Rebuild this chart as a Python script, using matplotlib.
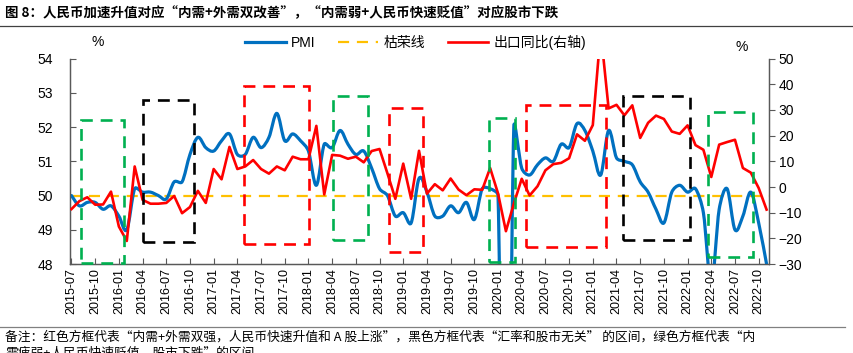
import numpy as np
import pandas as pd
import matplotlib
matplotlib.use("Agg")
import matplotlib.pyplot as plt
from matplotlib.path import Path
from matplotlib.patches import PathPatch, Rectangle
from matplotlib.lines import Line2D

plt.rcParams['font.family'] = ['Liberation Sans', 'Noto Sans CJK SC', 'DejaVu Sans']

months = pd.date_range("2015-07-01", "2022-11-01", freq="MS")
month_labels = months.strftime("%Y-%m")

pmi = [50.0, 49.7, 49.8, 49.8, 49.6, 49.7,
       49.4, 49.0, 50.2, 50.1, 50.1, 50.0, 49.9, 50.4, 50.4, 51.2, 51.7, 51.4,
       51.3, 51.6, 51.8, 51.2, 51.2, 51.7, 51.4, 51.7, 52.4, 51.6, 51.8, 51.6,
       51.3, 50.3, 51.5, 51.4, 51.9, 51.5, 51.2, 51.3, 50.8, 50.2, 50.0, 49.4,
       49.5, 49.2, 50.5, 50.1, 49.4, 49.4, 49.7, 49.5, 49.8, 49.3, 50.2, 50.2,
       50.0, 35.7, 52.0, 50.8, 50.6, 50.9, 51.1, 51.0, 51.5, 51.4, 52.1, 51.9,
       51.3, 50.6, 51.9, 51.1, 51.0, 50.9, 50.4, 50.1, 49.6, 49.2, 50.1, 50.3,
       50.1, 50.2, 49.5, 47.4, 49.6, 50.2, 49.0, 49.4, 50.1, 49.2, 48.0]

export_yoy = [-8.6, -5.5, -4.0, -6.9, -6.8, -1.8,
              -15.4, -21.0, 8.0, -5.0, -6.5, -6.5, -6.2, -3.5, -10.2, -7.8, -1.5, -6.2,
              7.0, 3.0, 15.6, 7.0, 8.0, 10.5, 7.0, 5.2, 8.0, 6.5, 11.8, 10.8,
              10.8, 23.8, -2.9, 12.5, 12.2, 11.0, 11.8, 9.6, 14.0, 14.8, 5.3, -4.6,
              9.1, -4.6, 14.1, -2.6, 1.1, -1.3, 3.3, -1.0, -3.2, -0.9, -1.1, 7.4,
              -2.5, -17.2, -6.5, 3.2, -3.3, 0.3, 6.5, 8.9, 9.4, 11.2, 20.5, 18.0,
              24.1, 60.6, 30.6, 32.0, 27.9, 31.8, 19.1, 25.0, 27.8, 26.5, 21.6, 20.7,
              24.0, 16.3, 14.5, 3.9, 16.5, 17.5, 18.4, 7.4, 5.6, -0.4, -8.8]

boom_line = 50.0

# dashed boxes: colour, first/last month (index), PMI bottom/top
box_colors = ['#00B050', 'black', '#FF0000', '#00B050', '#FF0000',
              '#00B050', '#FF0000', 'black', '#00B050']
box_start = [1.2, 9.1, 21.8, 33.1, 40.2, 52.8, 57.6, 69.8, 80.6]
box_end = [6.7, 15.5, 30.1, 37.6, 44.5, 56.1, 67.7, 78.3, 86.3]
box_low = [48.03, 48.64, 48.58, 48.71, 48.36, 48.07, 48.49, 48.71, 48.22]
box_high = [52.2, 52.8, 53.21, 52.92, 52.56, 52.27, 52.65, 52.9, 52.43]

title = "图 8：人民币加速升值对应“内需+外需双改善”，“内需弱+人民币快速贬值”对应股市下跌"
note1 = ("备注：红色方框代表“内需+外需双强，人民币快速升值和 A 股上涨”，黑色方框代表“汇率和股市无关” "
         "的区间，绿色方框代表“内")
note2 = "需疲弱+人民币快速贬值，股市下跌”的区间"


def smooth_path(xs, ys, yscale):
    # smoothed line through every monthly value; tangents are worked out on
    # a screen-like scale and capped so that outliers do not overshoot much
    px = np.asarray(xs, float)
    py = np.asarray(ys, float) * yscale
    n = len(px)
    verts = [(px[0], py[0])]
    codes = [Path.MOVETO]
    for i in range(n - 1):
        a = max(i - 1, 0)
        b = min(i + 2, n - 1)
        seg = np.hypot(px[i + 1] - px[i], py[i + 1] - py[i])
        t1 = np.array([px[i + 1] - px[a], py[i + 1] - py[a]])
        t2 = np.array([px[b] - px[i], py[b] - py[i]])
        d1 = t1 / 6
        d2 = t2 / 6
        l1 = np.hypot(*d1)
        l2 = np.hypot(*d2)
        if l1 > 0.4 * seg:
            d1 = d1 * 0.4 * seg / l1
        if l2 > 0.4 * seg:
            d2 = d2 * 0.4 * seg / l2
        c1 = (px[i] + d1[0], py[i] + d1[1])
        c2 = (px[i + 1] - d2[0], py[i + 1] - d2[1])
        verts += [c1, c2, (px[i + 1], py[i + 1])]
        codes += [Path.CURVE4] * 3
    verts = [(vx, vy / yscale) for vx, vy in verts]
    return Path(verts, codes)


x = np.arange(len(months))

fig = plt.figure(figsize=(8.54, 3.53), dpi=100)
ax = fig.add_axes([0.0814, 0.252, 0.819, 0.582])
ax2 = ax.twinx()

ax.set_xlim(-0.25, 88.3)
ax.set_ylim(48, 54)
ax2.set_ylim(-30, 50)

# pixels per month vs pixels per PMI point
yscale = (205.5 / 6) / (699.5 / 88.55)
ax.add_patch(PathPatch(smooth_path(x, pmi, yscale), fill=False, edgecolor='#0070C0',
                       lw=2.3, zorder=3, capstyle='round', joinstyle='round'))
ax.axhline(boom_line, color='#FFC000', lw=1.6, dashes=(5, 3.5), zorder=2)
ax2.plot(x, export_yoy, color='#FF0000', lw=1.9, zorder=3)

for c, s, e, lo, hi in zip(box_colors, box_start, box_end, box_low, box_high):
    ax2.add_patch(Rectangle((s, lo), e - s, hi - lo, transform=ax.transData,
                            fill=False, edgecolor=c, lw=1.9, linestyle=(0, (4.5, 3)),
                            zorder=4, clip_on=False))

ax.set_yticks(np.arange(48, 55, 1))
ax2.set_yticks(np.arange(-30, 51, 10))
ax.set_xticks(x[::3])
ax.set_xticklabels(month_labels[::3], rotation=90, fontsize=9)
ax.tick_params(axis='y', direction='in', length=4, labelsize=10, color='#595959', pad=12)
ax.tick_params(axis='x', direction='in', length=4, color='#595959', pad=3)
ax2.tick_params(axis='y', direction='out', length=4, labelsize=10, color='#595959', pad=3)

for a in (ax, ax2):
    a.spines['top'].set_visible(False)
    for s in ('left', 'right', 'bottom'):
        a.spines[s].set_color('#595959')
        a.spines[s].set_linewidth(0.9)

fig.text(0.114, 0.88, "%", fontsize=10, ha='center', va='center')
fig.text(0.869, 0.866, "%", fontsize=10, ha='center', va='center')

handles = [Line2D([], [], color='#0070C0', lw=2.3),
           Line2D([], [], color='#FFC000', lw=1.6, dashes=(5, 3.5)),
           Line2D([], [], color='#FF0000', lw=1.9)]
fig.legend(handles, ['PMI', '枯荣线', '出口同比(右轴)'], loc='center',
           bbox_to_anchor=(0.487, 0.881), ncol=3, frameon=False, fontsize=10,
           handlelength=2.9, columnspacing=1.6, handletextpad=0.4)

fig.text(0.006, 0.963, title, fontsize=9.7, fontweight='bold', ha='left', va='center',
         family=['Noto Sans CJK SC', 'DejaVu Sans'])
fig.add_artist(Line2D([0, 1], [0.927, 0.927], transform=fig.transFigure, color='#404040', lw=0.9))
fig.add_artist(Line2D([0, 0.99], [0.074, 0.074], transform=fig.transFigure, color='#808080', lw=0.9))
fig.text(0.006, 0.045, note1, fontsize=9.2, ha='left', va='center',
         family=['Noto Sans CJK SC', 'DejaVu Sans'])
# second line of the note runs off the bottom edge, as in the source image
fig.text(0.006, 0.0, note2, fontsize=9.2, ha='left', va='center',
         family=['Noto Sans CJK SC', 'DejaVu Sans'])

fig.savefig("out.png", dpi=100)
